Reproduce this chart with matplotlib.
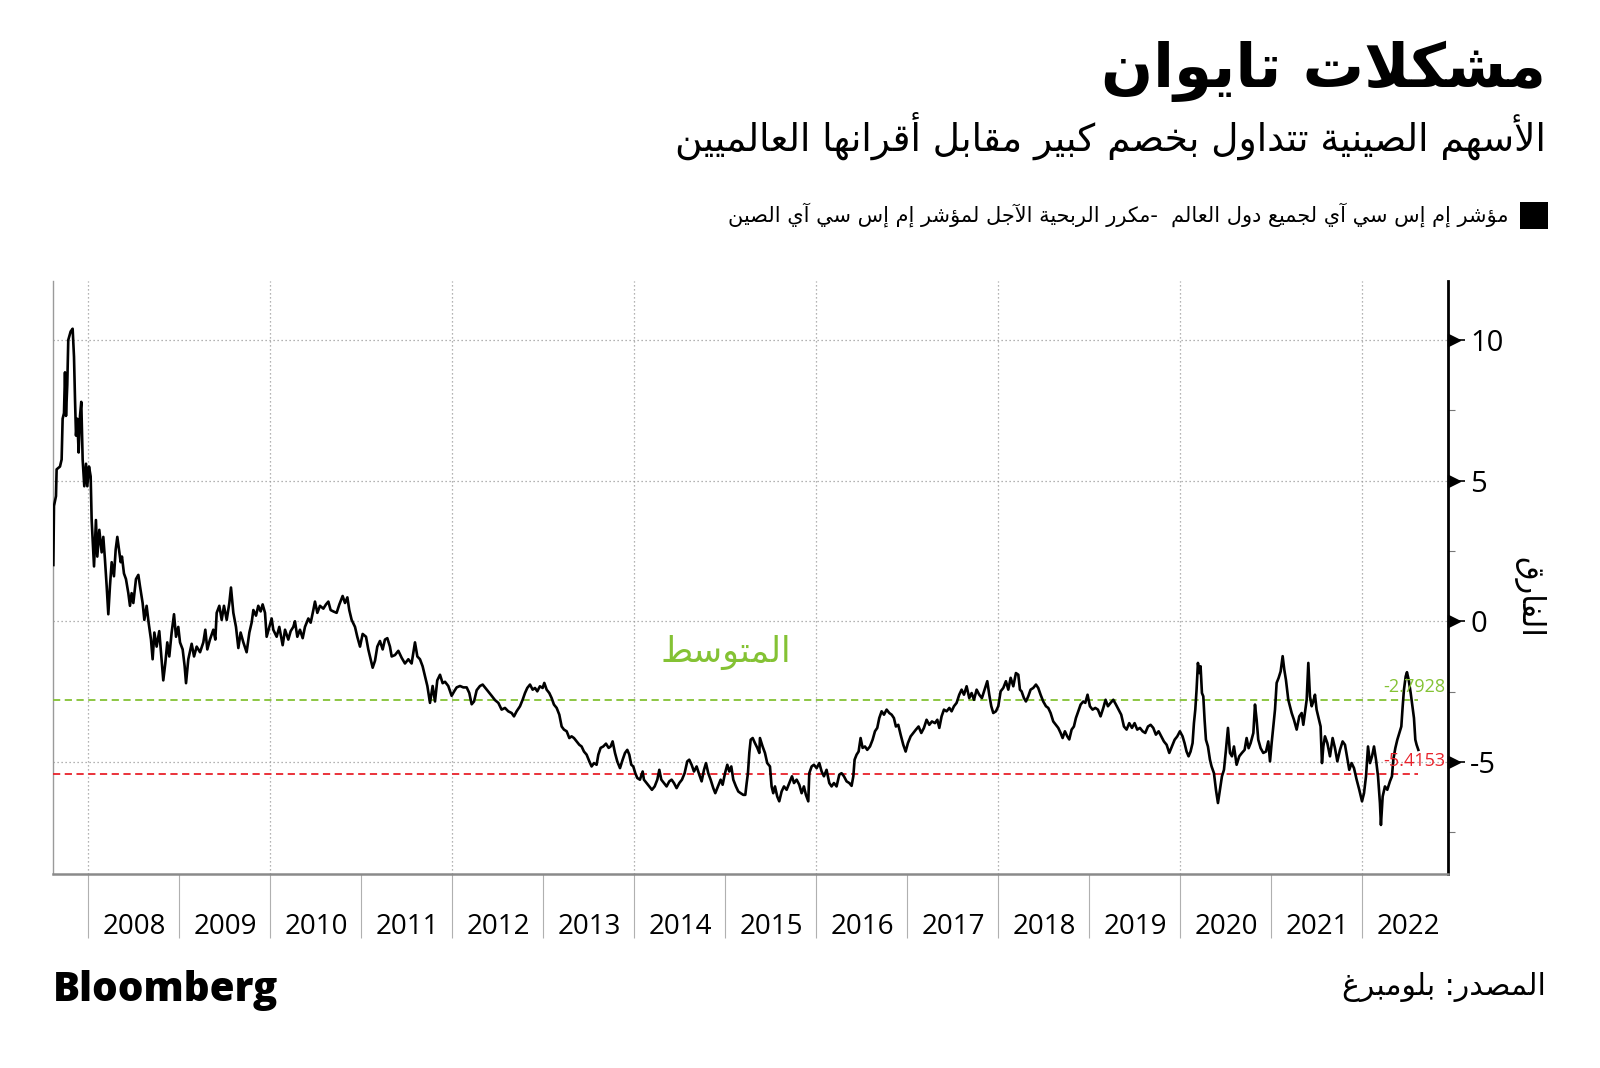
"""
Taiwan troubles: forward P/E spread, MSCI China vs MSCI ACWI (Bloomberg style)
"""
import matplotlib
matplotlib.use("Agg")
import matplotlib.pyplot as plt
from matplotlib import font_manager, transforms
from matplotlib.patches import Rectangle

# ── Data ────────────────────────────────────────────────────────────────────
YEARS = [
    2007.614, 2007.621, 2007.643, 2007.650, 2007.687, 2007.705, 2007.716, 2007.731, 2007.742, 2007.753,
    2007.767, 2007.778, 2007.804, 2007.826, 2007.841, 2007.852, 2007.863, 2007.877, 2007.892, 2007.907,
    2007.921, 2007.936, 2007.954, 2007.973, 2007.987, 2008.006, 2008.024, 2008.035, 2008.061, 2008.082,
    2008.097, 2008.119, 2008.145, 2008.163, 2008.181, 2008.200, 2008.218, 2008.236, 2008.255, 2008.280,
    2008.299, 2008.317, 2008.339, 2008.354, 2008.368, 2008.390, 2008.412, 2008.438, 2008.456, 2008.474,
    2008.493, 2008.522, 2008.548, 2008.566, 2008.595, 2008.614, 2008.639, 2008.661, 2008.687, 2008.705,
    2008.724, 2008.749, 2008.778, 2008.797, 2008.822, 2008.844, 2008.866, 2008.888, 2008.914, 2008.940,
    2008.962, 2008.987, 2009.006, 2009.035, 2009.057, 2009.072, 2009.097, 2009.134, 2009.160, 2009.189,
    2009.226, 2009.262, 2009.284, 2009.306, 2009.335, 2009.372, 2009.394, 2009.409, 2009.438, 2009.464,
    2009.489, 2009.519, 2009.548, 2009.566, 2009.592, 2009.621, 2009.647, 2009.672, 2009.702, 2009.738,
    2009.768, 2009.793, 2009.812, 2009.841, 2009.866, 2009.892, 2009.914, 2009.940, 2009.958, 2009.987,
    2010.013, 2010.031, 2010.068, 2010.097, 2010.134, 2010.160, 2010.196, 2010.222, 2010.251, 2010.269,
    2010.295, 2010.324, 2010.354, 2010.379, 2010.416, 2010.442, 2010.471, 2010.489, 2010.515, 2010.544,
    2010.581, 2010.610, 2010.636, 2010.661, 2010.691, 2010.727, 2010.757, 2010.793, 2010.819, 2010.845,
    2010.866, 2010.892, 2010.929, 2010.954, 2010.984, 2011.013, 2011.050, 2011.075, 2011.101, 2011.123,
    2011.149, 2011.174, 2011.203, 2011.233, 2011.258, 2011.284, 2011.313, 2011.332, 2011.368, 2011.405,
    2011.442, 2011.478, 2011.515, 2011.551, 2011.588, 2011.614, 2011.643, 2011.672, 2011.698, 2011.724,
    2011.753, 2011.782, 2011.808, 2011.833, 2011.863, 2011.892, 2011.918, 2011.954, 2011.991, 2012.017,
    2012.046, 2012.083, 2012.119, 2012.156, 2012.185, 2012.211, 2012.237, 2012.266, 2012.302, 2012.332,
    2012.357, 2012.394, 2012.431, 2012.467, 2012.504, 2012.540, 2012.577, 2012.613, 2012.650, 2012.676,
    2012.705, 2012.742, 2012.771, 2012.797, 2012.822, 2012.852, 2012.881, 2012.907, 2012.932, 2012.961,
    2012.991, 2013.009, 2013.035, 2013.064, 2013.090, 2013.115, 2013.145, 2013.174, 2013.200, 2013.225,
    2013.255, 2013.284, 2013.309, 2013.335, 2013.364, 2013.394, 2013.419, 2013.445, 2013.474, 2013.504,
    2013.529, 2013.555, 2013.584, 2013.603, 2013.628, 2013.657, 2013.687, 2013.716, 2013.738, 2013.760,
    2013.786, 2013.811, 2013.841, 2013.870, 2013.896, 2013.921, 2013.943, 2013.965, 2013.987, 2014.009,
    2014.031, 2014.060, 2014.090, 2014.104, 2014.134, 2014.163, 2014.192, 2014.222, 2014.251, 2014.273,
    2014.295, 2014.324, 2014.353, 2014.383, 2014.408, 2014.434, 2014.463, 2014.493, 2014.522, 2014.551,
    2014.580, 2014.602, 2014.628, 2014.654, 2014.683, 2014.712, 2014.738, 2014.764, 2014.786, 2014.811,
    2014.837, 2014.866, 2014.888, 2014.918, 2014.947, 2014.969, 2014.995, 2015.020, 2015.042, 2015.064,
    2015.086, 2015.115, 2015.141, 2015.167, 2015.196, 2015.218, 2015.233, 2015.247, 2015.262, 2015.277,
    2015.299, 2015.324, 2015.350, 2015.372, 2015.379, 2015.408, 2015.434, 2015.459, 2015.489, 2015.507,
    2015.525, 2015.544, 2015.569, 2015.591, 2015.617, 2015.643, 2015.672, 2015.701, 2015.731, 2015.753,
    2015.782, 2015.811, 2015.837, 2015.862, 2015.884, 2015.910, 2015.921, 2015.947, 2015.972, 2016.002,
    2016.031, 2016.057, 2016.082, 2016.111, 2016.141, 2016.166, 2016.192, 2016.221, 2016.251, 2016.276,
    2016.302, 2016.331, 2016.361, 2016.386, 2016.405, 2016.419, 2016.441, 2016.463, 2016.485, 2016.507,
    2016.533, 2016.558, 2016.588, 2016.617, 2016.643, 2016.668, 2016.690, 2016.716, 2016.742, 2016.771,
    2016.800, 2016.826, 2016.851, 2016.873, 2016.899, 2016.925, 2016.954, 2016.980, 2017.005, 2017.035,
    2017.064, 2017.093, 2017.122, 2017.152, 2017.181, 2017.210, 2017.240, 2017.269, 2017.302, 2017.328,
    2017.350, 2017.375, 2017.401, 2017.430, 2017.460, 2017.485, 2017.511, 2017.540, 2017.569, 2017.595,
    2017.621, 2017.650, 2017.679, 2017.705, 2017.731, 2017.760, 2017.789, 2017.818, 2017.848, 2017.877,
    2017.899, 2017.921, 2017.943, 2017.972, 2017.998, 2018.024, 2018.053, 2018.082, 2018.108, 2018.134,
    2018.163, 2018.192, 2018.218, 2018.236, 2018.254, 2018.280, 2018.302, 2018.327, 2018.353, 2018.382,
    2018.412, 2018.437, 2018.463, 2018.492, 2018.522, 2018.547, 2018.573, 2018.602, 2018.631, 2018.657,
    2018.683, 2018.705, 2018.730, 2018.756, 2018.778, 2018.804, 2018.829, 2018.851, 2018.877, 2018.903,
    2018.932, 2018.954, 2018.979, 2019.005, 2019.034, 2019.064, 2019.093, 2019.122, 2019.152, 2019.177,
    2019.203, 2019.232, 2019.262, 2019.291, 2019.320, 2019.349, 2019.379, 2019.408, 2019.437, 2019.467,
    2019.496, 2019.525, 2019.555, 2019.584, 2019.613, 2019.643, 2019.672, 2019.701, 2019.730, 2019.760,
    2019.789, 2019.818, 2019.848, 2019.877, 2019.906, 2019.936, 2019.965, 2019.994, 2020.023, 2020.045,
    2020.067, 2020.089, 2020.111, 2020.133, 2020.148, 2020.163, 2020.177, 2020.192, 2020.207, 2020.221,
    2020.236, 2020.251, 2020.265, 2020.280, 2020.302, 2020.324, 2020.342, 2020.368, 2020.390, 2020.412,
    2020.434, 2020.456, 2020.478, 2020.500, 2020.522, 2020.544, 2020.566, 2020.588, 2020.617, 2020.646,
    2020.675, 2020.705, 2020.727, 2020.749, 2020.771, 2020.801, 2020.819, 2020.837, 2020.855, 2020.881,
    2020.910, 2020.940, 2020.965, 2020.984, 2021.002, 2021.020, 2021.039, 2021.057, 2021.079, 2021.101,
    2021.123, 2021.141, 2021.159, 2021.185, 2021.203, 2021.222, 2021.247, 2021.277, 2021.306, 2021.332,
    2021.350, 2021.372, 2021.387, 2021.405, 2021.423, 2021.442, 2021.460, 2021.478, 2021.496, 2021.518,
    2021.540, 2021.555, 2021.570, 2021.588, 2021.614, 2021.643, 2021.672, 2021.698, 2021.724, 2021.753,
    2021.782, 2021.808, 2021.833, 2021.855, 2021.881, 2021.907, 2021.936, 2021.965, 2021.995, 2022.017,
    2022.039, 2022.061, 2022.083, 2022.105, 2022.127, 2022.149, 2022.171, 2022.192, 2022.203, 2022.222,
    2022.247, 2022.273, 2022.302, 2022.324, 2022.339, 2022.361, 2022.383, 2022.405, 2022.427, 2022.442,
    2022.456, 2022.475, 2022.489, 2022.508, 2022.530, 2022.551, 2022.566, 2022.581, 2022.595, 2022.614,
]
SPREAD = [
    2.0, 4.1, 4.45, 5.4, 5.5, 5.75, 7.2, 7.4, 8.85, 7.3,
    8.4, 10.0, 10.3, 10.4, 9.4, 7.9, 6.6, 7.2, 6.0, 7.3,
    7.8, 5.75, 4.8, 5.6, 4.8, 5.5, 5.15, 3.6, 1.95, 3.6,
    2.3, 3.25, 2.45, 3.0, 2.2, 1.25, 0.25, 1.25, 2.1, 1.6,
    2.55, 3.0, 2.45, 2.1, 2.3, 1.7, 1.5, 1.0, 0.55, 1.0,
    0.65, 1.5, 1.65, 1.25, 0.65, 0.05, 0.55, -0.05, -0.65, -1.35,
    -0.4, -0.9, -0.35, -1.1, -2.1, -1.5, -0.75, -1.25, -0.4, 0.25,
    -0.55, -0.2, -0.75, -1.0, -1.6, -2.2, -1.35, -0.8, -1.25, -0.9,
    -1.1, -0.75, -0.3, -1.0, -0.65, -0.3, -0.65, 0.3, 0.55, 0.05,
    0.55, 0.05, 0.65, 1.2, 0.3, -0.2, -0.95, -0.4, -0.75, -1.1,
    -0.4, -0.05, 0.4, 0.2, 0.55, 0.35, 0.6, 0.3, -0.55, -0.2,
    0.1, -0.3, -0.55, -0.2, -0.85, -0.3, -0.65, -0.35, -0.2, 0.0,
    -0.55, -0.3, -0.6, -0.2, 0.1, -0.05, 0.4, 0.7, 0.3, 0.55,
    0.45, 0.6, 0.7, 0.4, 0.35, 0.3, 0.6, 0.9, 0.65, 0.85,
    0.4, 0.05, -0.2, -0.55, -0.9, -0.45, -0.55, -1.0, -1.35, -1.65,
    -1.4, -0.9, -0.7, -1.0, -0.65, -0.6, -0.9, -1.25, -1.2, -1.05,
    -1.3, -1.5, -1.35, -1.5, -0.75, -1.25, -1.35, -1.6, -1.95, -2.3,
    -2.9, -2.3, -2.85, -2.1, -1.9, -2.2, -2.15, -2.3, -2.65, -2.5,
    -2.35, -2.3, -2.35, -2.35, -2.55, -2.95, -2.85, -2.45, -2.3, -2.25,
    -2.35, -2.5, -2.65, -2.8, -2.9, -3.14, -3.08, -3.2, -3.26, -3.38,
    -3.2, -3.02, -2.79, -2.55, -2.37, -2.25, -2.43, -2.37, -2.49, -2.31,
    -2.37, -2.19, -2.43, -2.55, -2.73, -2.96, -3.08, -3.32, -3.74, -3.85,
    -3.91, -4.15, -4.09, -4.15, -4.27, -4.39, -4.45, -4.63, -4.74, -4.98,
    -5.16, -5.04, -5.1, -4.74, -4.5, -4.45, -4.35, -4.5, -4.45, -4.27,
    -4.68, -4.98, -5.22, -4.92, -4.68, -4.57, -4.74, -5.1, -5.16, -5.4,
    -5.57, -5.63, -5.34, -5.63, -5.75, -5.87, -5.99, -5.87, -5.63, -5.28,
    -5.63, -5.75, -5.87, -5.69, -5.63, -5.75, -5.93, -5.75, -5.63, -5.4,
    -4.98, -4.92, -5.1, -5.34, -5.16, -5.45, -5.69, -5.28, -5.04, -5.4,
    -5.63, -5.93, -6.11, -5.87, -5.63, -5.81, -5.4, -5.1, -5.34, -5.16,
    -5.63, -5.87, -6.05, -6.11, -6.17, -6.17, -5.75, -5.4, -4.68, -4.21,
    -4.15, -4.33, -4.5, -4.68, -4.15, -4.45, -4.68, -5.04, -5.16, -5.87,
    -6.11, -5.87, -6.23, -6.4, -6.05, -5.87, -5.99, -5.75, -5.51, -5.75,
    -5.63, -5.81, -6.11, -5.87, -6.17, -6.4, -5.4, -5.16, -5.1, -5.22,
    -5.04, -5.34, -5.51, -5.28, -5.75, -5.87, -5.75, -5.87, -5.45, -5.4,
    -5.51, -5.69, -5.75, -5.85, -5.51, -4.92, -4.74, -4.63, -4.15, -4.5,
    -4.45, -4.57, -4.45, -4.21, -3.91, -3.79, -3.44, -3.2, -3.32, -3.14,
    -3.26, -3.32, -3.44, -3.74, -3.68, -4.03, -4.39, -4.63, -4.33, -4.09,
    -3.97, -3.85, -3.74, -3.97, -3.79, -3.5, -3.68, -3.56, -3.62, -3.5,
    -3.79, -3.38, -3.14, -3.2, -3.08, -3.2, -3.02, -2.9, -2.61, -2.43,
    -2.61, -2.31, -2.73, -2.55, -2.79, -2.43, -2.61, -2.73, -2.43, -2.13,
    -2.61, -3.02, -3.26, -3.2, -3.02, -2.49, -2.37, -2.13, -2.43, -2.01,
    -2.31, -1.84, -1.9, -2.43, -2.49, -2.73, -2.85, -2.67, -2.43, -2.37,
    -2.25, -2.37, -2.61, -2.85, -3.02, -3.08, -3.26, -3.56, -3.68, -3.79,
    -3.97, -4.15, -3.91, -4.09, -4.2, -3.85, -3.74, -3.44, -3.2, -2.96,
    -2.85, -2.9, -2.61, -3.02, -3.14, -3.08, -3.14, -3.38, -3.08, -2.79,
    -3.02, -2.9, -2.79, -2.96, -3.14, -3.32, -3.74, -3.85, -3.62, -3.79,
    -3.62, -3.85, -3.79, -3.91, -3.97, -3.74, -3.68, -3.79, -4.03, -3.91,
    -4.09, -4.27, -4.39, -4.68, -4.45, -4.21, -4.09, -3.91, -4.09, -4.33,
    -4.63, -4.8, -4.63, -4.33, -3.62, -3.14, -2.43, -1.48, -1.84, -1.6,
    -2.55, -2.67, -3.5, -4.21, -4.45, -4.92, -5.16, -5.4, -5.99, -6.46,
    -5.99, -5.51, -5.28, -4.57, -3.79, -4.68, -4.8, -4.45, -5.1, -4.8,
    -4.68, -4.57, -4.15, -4.51, -4.33, -3.97, -2.96, -3.5, -4.21, -4.51,
    -4.68, -4.63, -4.27, -4.98, -4.33, -3.74, -3.14, -2.19, -2.01, -1.78,
    -1.24, -1.72, -2.08, -2.79, -3.02, -3.26, -3.5, -3.85, -3.38, -3.26,
    -3.68, -3.14, -2.79, -1.48, -2.67, -3.02, -2.85, -2.61, -3.14, -3.44,
    -3.74, -5.04, -4.45, -4.09, -4.33, -4.8, -4.15, -4.51, -4.98, -4.57,
    -4.27, -4.39, -4.86, -5.28, -5.04, -5.22, -5.63, -5.99, -6.4, -6.11,
    -5.51, -4.45, -5.04, -4.8, -4.45, -4.92, -5.51, -6.46, -7.24, -6.23,
    -5.87, -5.99, -5.69, -5.51, -4.92, -4.51, -4.21, -3.97, -3.74, -3.02,
    -2.43, -1.96, -1.81, -2.08, -2.55, -3.08, -3.44, -4.21, -4.39, -4.57,
]
MEAN_LEVEL = -2.7928
LOW_LEVEL = -5.4153
YEAR_LABELS = list(range(2008, 2023))
Y_TICKS = [-5, 0, 5, 10]
Y_MINOR = [-7.5, -2.5, 2.5, 7.5]

TITLE = "مشكلات تايوان"
SUBTITLE = "الأسهم الصينية تتداول بخصم كبير مقابل أقرانها العالميين"
LEGEND = "مؤشر إم إس سي آي لجميع دول العالم  -مكرر الربحية الآجل لمؤشر إم إس سي آي الصين"
MEAN_NAME = "المتوسط"
Y_NAME = "الفارق"
SOURCE = "المصدر: بلومبرغ"

GREEN = "#84c234"
RED = "#e8222b"
GRID = "#9a9a9a"

# ── Arabic shaping (matplotlib draws glyphs left-to-right, unshaped) ────────
AR_FORMS = {
    "ء": (0xFE80, 1), "آ": (0xFE81, 2), "أ": (0xFE83, 2), "ؤ": (0xFE85, 2),
    "إ": (0xFE87, 2), "ئ": (0xFE89, 4), "ا": (0xFE8D, 2), "ب": (0xFE8F, 4),
    "ة": (0xFE93, 2), "ت": (0xFE95, 4), "ث": (0xFE99, 4), "ج": (0xFE9D, 4),
    "ح": (0xFEA1, 4), "خ": (0xFEA5, 4), "د": (0xFEA9, 2), "ذ": (0xFEAB, 2),
    "ر": (0xFEAD, 2), "ز": (0xFEAF, 2), "س": (0xFEB1, 4), "ش": (0xFEB5, 4),
    "ص": (0xFEB9, 4), "ض": (0xFEBD, 4), "ط": (0xFEC1, 4), "ظ": (0xFEC5, 4),
    "ع": (0xFEC9, 4), "غ": (0xFECD, 4), "ف": (0xFED1, 4), "ق": (0xFED5, 4),
    "ك": (0xFED9, 4), "ل": (0xFEDD, 4), "م": (0xFEE1, 4), "ن": (0xFEE5, 4),
    "ه": (0xFEE9, 4), "و": (0xFEED, 2), "ى": (0xFEEF, 2), "ي": (0xFEF1, 4),
}
LAM_ALEF = {"آ": 0xFEF5, "أ": 0xFEF7, "إ": 0xFEF9, "ا": 0xFEFB}


def ar(text):
    units, i = [], 0
    while i < len(text):
        c = text[i]
        if c == "ل" and i + 1 < len(text) and text[i + 1] in LAM_ALEF:
            units.append((LAM_ALEF[text[i + 1]], 2))
            i += 2
            continue
        units.append(AR_FORMS.get(c, (c, 0)))
        i += 1
    out = []
    for k, (base, n) in enumerate(units):
        if n == 0:
            out.append(base)
            continue
        joins_prev = k > 0 and units[k - 1][1] == 4
        joins_next = n == 4 and k + 1 < len(units) and units[k + 1][1] >= 2
        if n == 4:
            form = 3 if joins_prev and joins_next else 2 if joins_next else 1 if joins_prev else 0
        elif n == 2:
            form = 1 if joins_prev else 0
        else:
            form = 0
        out.append(chr(base + form))
    return "".join(reversed(out))


def pick(*names):
    for n in names:
        try:
            font_manager.findfont(font_manager.FontProperties(family=n), fallback_to_default=False)
            return n
        except ValueError:
            continue
    return "DejaVu Sans"


NARROW = pick("Liberation Sans Narrow", "Open Sans")
ARFONT = "DejaVu Sans"

# ── Chart ───────────────────────────────────────────────────────────────────
fig = plt.figure(figsize=(16, 10.68), dpi=100)
ax = fig.add_axes([0.033, 0.1812, 0.872, 0.5558])

ax.plot(YEARS, SPREAD, color="black", linewidth=1.9, zorder=4)
ax.hlines(MEAN_LEVEL, YEARS[0], YEARS[-1], colors=GREEN, linestyles=(0, (4, 2.5)), linewidth=1.3, zorder=3)
ax.hlines(LOW_LEVEL, YEARS[0], YEARS[-1], colors=RED, linestyles=(0, (4, 2.5)), linewidth=1.3, zorder=3)

ax.set_xlim(2007.608, 2022.94)
ax.set_ylim(-9, 12.1)

# year separators (major) and centred year labels (minor)
ax.set_xticks(YEAR_LABELS)
ax.set_xticklabels([])
ax.set_xticks([y + 0.5 for y in YEAR_LABELS], minor=True)
ax.set_xticklabels([str(y) for y in YEAR_LABELS], minor=True, family=NARROW, fontsize=20)
ax.tick_params(axis="x", which="major", length=46, width=0.8, color="#b0b0b0", direction="out")
ax.tick_params(axis="x", which="minor", length=0, pad=28)
for y in YEAR_LABELS[::2]:
    ax.axvline(y, color=GRID, linestyle=(0, (1, 2.2)), linewidth=0.9, zorder=1)

ax.yaxis.tick_right()
ax.set_yticks(Y_TICKS)
ax.set_yticklabels([str(t) for t in Y_TICKS], family=NARROW, fontsize=21)
ax.set_yticks(Y_MINOR, minor=True)
ax.tick_params(axis="y", which="major", length=12, width=1.2, color="black", pad=4)
ax.tick_params(axis="y", which="minor", length=5, width=0.8, color="#777777")
ax.grid(axis="y", which="major", color=GRID, linestyle=(0, (1, 2.2)), linewidth=0.9, zorder=1)
tri = transforms.offset_copy(ax.get_yaxis_transform(), fig=fig, x=4, y=0, units="points")
ax.plot([1] * len(Y_TICKS), Y_TICKS, marker=">", linestyle="none", markersize=8,
        color="black", transform=tri, clip_on=False, zorder=5)

ax.spines["top"].set_visible(False)
ax.spines["left"].set_color("#9a9a9a")
ax.spines["left"].set_linewidth(1.0)
ax.spines["bottom"].set_color("#8a8a8a")
ax.spines["bottom"].set_linewidth(1.8)
ax.spines["right"].set_color("black")
ax.spines["right"].set_linewidth(2.0)

# level labels at the right edge
ylab = ax.get_yaxis_transform()
ax.text(0.998, MEAN_LEVEL + 0.12, f"{MEAN_LEVEL:.4f}", transform=ylab, ha="right", va="bottom",
        color=GREEN, fontsize=13, family=NARROW, zorder=6)
ax.text(0.998, LOW_LEVEL + 0.12, f"{LOW_LEVEL:.4f}", transform=ylab, ha="right", va="bottom",
        color=RED, fontsize=13, family=NARROW, zorder=6)
ax.text(2015.0, -1.1, ar(MEAN_NAME), color=GREEN, fontsize=25, family=ARFONT, ha="center", va="center")

# y label on the right, reading top to bottom
fig.text(0.955, 0.441, ar(Y_NAME), rotation=270, fontsize=22, family=ARFONT, ha="center", va="center")

# ── Header / footer ─────────────────────────────────────────────────────────
fig.text(0.966, 0.9335, ar(TITLE), fontsize=44, fontweight="bold", family=ARFONT, ha="right", va="center")
fig.text(0.966, 0.8727, ar(SUBTITLE), fontsize=27, family=ARFONT, ha="right", va="center")
fig.patches.append(Rectangle((0.95, 0.7856), 0.0175, 0.0253, transform=fig.transFigure,
                             facecolor="black", edgecolor="none"))
fig.text(0.9425, 0.7987, ar(LEGEND), fontsize=15, family=ARFONT, ha="right", va="center")

fig.text(0.033, 0.073, "Bloomberg", fontsize=29, fontweight="heavy", family=NARROW, ha="left", va="center")
fig.text(0.966, 0.0758, ar(SOURCE), fontsize=21.5, family=ARFONT, ha="right", va="center")

plt.savefig("out.png", dpi=100)
plt.close()
